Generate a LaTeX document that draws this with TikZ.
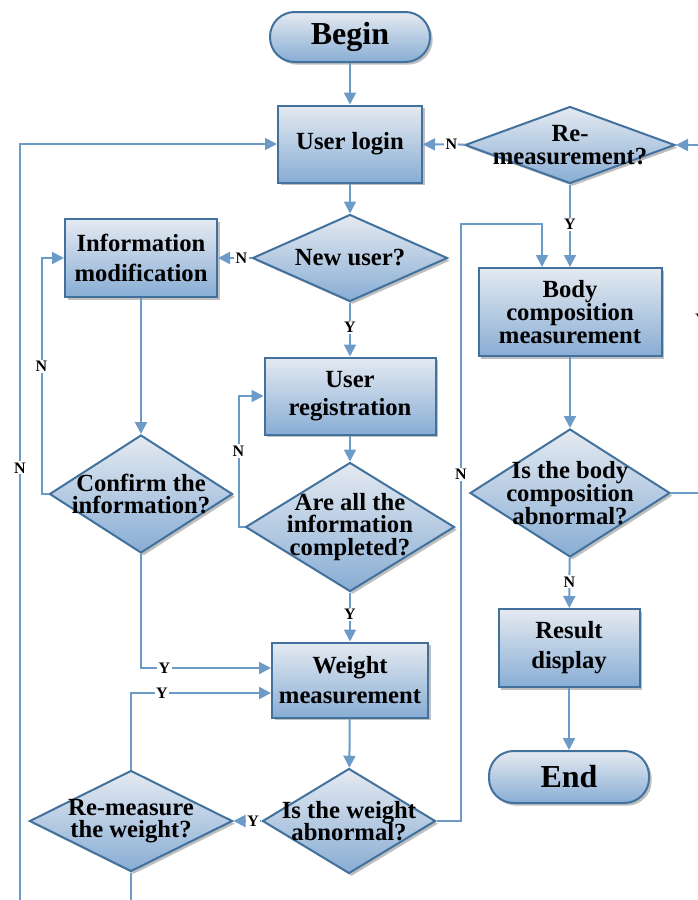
\documentclass[tikz,border=0pt]{standalone}
\usepackage{fontspec}
\setmainfont{Liberation Serif}
\usetikzlibrary{positioning, arrows.meta, shapes.geometric, shadows, calc}
\definecolor{flowTop}{RGB}{229,234,241}
\definecolor{flowBot}{RGB}{136,173,212}
\definecolor{flowEdge}{RGB}{65,113,156}
\definecolor{flowLine}{RGB}{108,155,200}
\newcommand{\boxFont}{\fontsize{18.5}{22.5}\selectfont\bfseries}
\newcommand{\dmdFont}{\fontsize{18.5}{17}\selectfont\bfseries\lineskiplimit=-20pt}
\newcommand{\termFont}{\fontsize{24}{26}\selectfont\bfseries}
\newcommand{\ynFont}{\fontsize{12}{12}\selectfont\bfseries}

\begin{document}
\begin{tikzpicture}[x=0.75pt, y=-0.75pt,
  box/.style={draw=flowEdge, line width=1.5pt, top color=flowTop, bottom color=flowBot,
    drop shadow={shadow xshift=2pt, shadow yshift=-2pt, fill=black!25, opacity=1},
    inner sep=0pt, align=center, font=\boxFont},
  proc/.style={box, rectangle},
  term/.style={box, rectangle, rounded corners=18.5pt, font=\termFont},
  dec/.style={box, diamond},
  dtxt/.style={align=center, font=\dmdFont, inner sep=0pt},
  yn/.style={fill=white, inner sep=1pt, font=\ynFont},
  flow/.style={draw=flowLine, line width=1.5pt, -{Triangle[length=9pt, width=9pt]}}]
  \useasboundingbox (0,0) rectangle (697,900);

  % main column
  \node[term, minimum width=120pt, minimum height=37.5pt] (begin) at (350,37) {Begin};
  \node[proc, minimum width=108pt, minimum height=57.75pt] (login) at (350,144) {User login};
  \node[dec, minimum width=146.25pt, minimum height=65.25pt] (newuser) at (350,258) {};
  \node[dtxt, font=\boxFont] (newuser-t) at (newuser) {New user?};
  \node[proc, minimum width=128.25pt, minimum height=57.75pt, font={\fontsize{18.5}{21}\selectfont\bfseries}] (userreg) at (350,396) {User\\registration};
  \node[dec, minimum width=156.75pt, minimum height=96.75pt] (allinfo) at (350,527) {};
  \node[dtxt] (allinfo-t) at (allinfo) {Are all the\\information\\completed?};
  \node[proc, minimum width=117pt, minimum height=56.25pt, font={\fontsize{18.5}{23}\selectfont\bfseries}] (weight) at (350,680) {Weight\\measurement};
  \node[dec, minimum width=129.75pt, minimum height=78.75pt] (wabn) at (349,821) {};
  \node[dtxt] (wabn-t) at (wabn) {Is the weight\\abnormal?};

  % left column
  \node[proc, minimum width=114pt, minimum height=58.5pt] (infomod) at (141,258) {Information\\modification};
  \node[dec, minimum width=137.25pt, minimum height=88.5pt] (confirm) at (141,494) {};
  \node[dtxt] (confirm-t) at (confirm) {Confirm the\\information?};
  \node[dec, minimum width=152.25pt, minimum height=75.75pt] (remw) at (131,821) {};
  \node[dtxt] (remw-t) at (remw) {Re-measure\\the weight?};

  % right column
  \node[dec, minimum width=157.5pt, minimum height=57.75pt] (remeas) at (570,145) {};
  \node[dtxt] (remeas-t) at (remeas) {Re-\\measurement?};
  \node[proc, minimum width=137.25pt, minimum height=66pt, font=\dmdFont] (bodycomp) at (570,312) {Body\\composition\\measurement};
  \node[dec, minimum width=150pt, minimum height=96pt] (babn) at (570,493) {};
  \node[dtxt] (babn-t) at (babn) {Is the body\\composition\\abnormal?};
  \node[proc, minimum width=105.75pt, minimum height=58.5pt] (result) at (569,648) {Result\\display};
  \node[term, minimum width=120pt, minimum height=39pt] (end) at (569,777) {End};

  \coordinate (nbend) at (461,224);
  \coordinate (lowturn) at (20,915);

  % connectors
  \draw[flow] (begin) -- (login);
  \draw[flow] (login) -- (newuser);
  \draw[flow] (remeas) -- node[yn, pos=0.33] (n1) {N} (login);
  \draw[flow] (newuser) -- node[yn, pos=0.3] (n2) {N} (infomod);
  \draw[flow] (newuser) -- node[yn, pos=0.46] (y1) {Y} (userreg);
  \draw[flow] (infomod) -- (confirm);
  \draw[flow] (confirm.west) -- ++(-7,0) |- node[yn, pos=0.27] (n3) {N} (infomod.west);
  \draw[flow] (userreg) -- (allinfo);
  \draw[flow] (allinfo.west) -- ++(-6,0) |- node[yn, pos=0.29] (n4) {N} (userreg.west);
  \draw[flow] (allinfo) -- node[yn, pos=0.45] (y2) {Y} (weight);
  \draw[flow] (confirm.south) |- node[yn, pos=0.59] (y3) {Y} ($(weight.west)+(0,-12)$);
  \draw[flow] (remw.north) |- node[yn, pos=0.61] (y4) {Y} ($(weight.west)+(0,13)$);
  \draw[flow] (weight) -- (wabn);
  \draw[flow] (wabn) -- node[yn, pos=0.3] (y5) {Y} (remw);
  \draw[flow] (wabn.east) -| node[yn, pos=0.79] (n5) {N} (nbend) -| ($(bodycomp.north)+(-28,0)$);
  \draw[flow] (remeas) -- node[yn, pos=0.48] (y6) {Y} (bodycomp);
  \draw[flow] (bodycomp) -- (babn);
  \draw[flow] (babn) -- node[yn, pos=0.48] (n6) {N} (result);
  \draw[flow] (result) -- (end);
  \draw[flow] (babn.east) -- ++(30,0) |- node[yn, pos=0.25] (y7) {Y} (remeas.east);
  \draw[flow] (remw.south) |- (lowturn) |- node[yn, pos=0.29] (n7) {N} (login.west);
\end{tikzpicture}
\end{document}
